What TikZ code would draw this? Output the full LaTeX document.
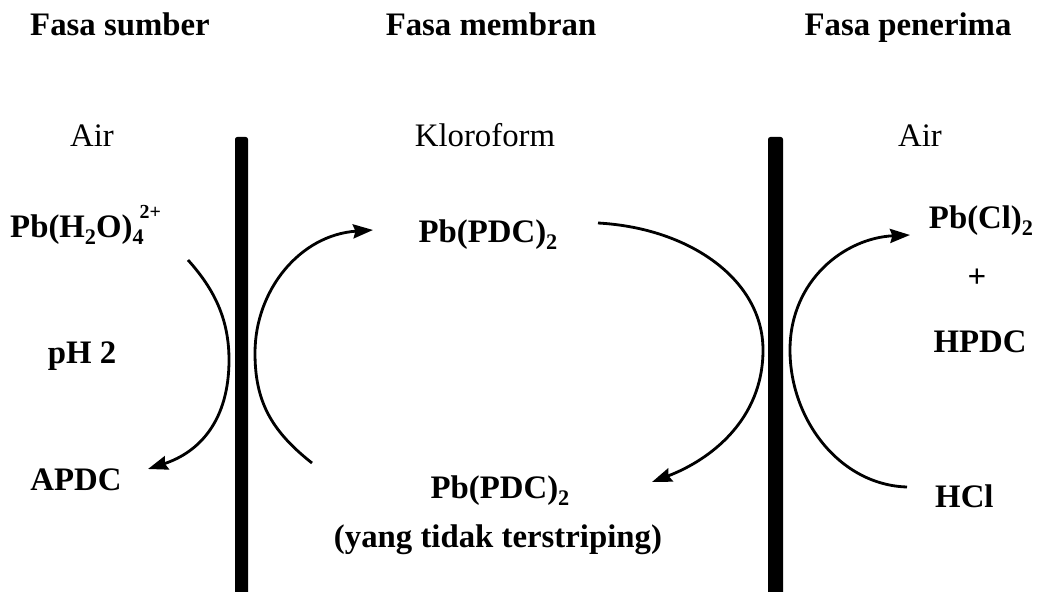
\documentclass[tikz,border=0pt]{standalone}
\usepackage{fontspec}
\setmainfont{Liberation Serif}
\usetikzlibrary{arrows.meta}
% chemical sub- and superscripts at a fixed smaller size
\newcommand\chsub[1]{\raisebox{-0.22em}{\fontsize{19}{19}\selectfont #1}}
\newcommand\chsup[1]{\raisebox{0.55em}{\fontsize{17}{17}\selectfont #1}}

\begin{document}
\begin{tikzpicture}[x=0.03cm,y=-0.03cm,
  txt/.style={inner sep=0pt, anchor=base, font=\fontsize{28}{32}\selectfont},
  btxt/.style={inner sep=0pt, anchor=base, font=\fontsize{28}{32}\selectfont\bfseries},
  flow/.style={line width=2.4pt, -{Stealth[length=17pt,width=12pt,inset=2pt]}},
  ]
\useasboundingbox (0,0) rectangle (1043,592);

% membrane walls
\fill[black, rounded corners=2pt] (235,137) rectangle (248,600);
\fill[black, rounded corners=2pt] (768,137) rectangle (783,600);

% phase headings
\node[btxt] (src) at (120,36) {Fasa sumber};
\node[btxt] (mem) at (491,36) {Fasa membran};
\node[btxt] (rcv) at (908,36) {Fasa penerima};

% solvents
\node[txt] (airL) at (92,146) {Air};
\node[txt] (klo) at (485,146) {Kloroform};
\node[txt] (airR) at (920,146) {Air};

% source phase
\node[btxt, anchor=base west] (pbaq) at (10,237) {Pb(H\chsub{2}O)\chsub{4}\kern-0.12em\chsup{2+}};
\node[btxt] (ph) at (82,363) {pH 2};
\node[btxt] (apdc) at (76,490) {APDC};

% membrane phase
\node[btxt] (pbm) at (488,242) {Pb(PDC)\chsub{2}};
\node[btxt] (pbu) at (500,498) {Pb(PDC)\chsub{2}};
\node[btxt] (unstr) at (498,547) {(yang tidak terstriping)};

% receiving phase
\node[btxt] (pbcl) at (981,228) {Pb(Cl)\chsub{2}};
\node[btxt] (plus) at (977,287) {+};
\node[btxt] (hpdc) at (980,352) {HPDC};
\node[btxt, anchor=base west] (hcl) at (935,507) {HCl};

% ends of the flow arcs
\coordinate (s1) at (188,260);
\coordinate (e1) at (148,469);
\coordinate (s2) at (312,463);
\coordinate (e2) at (373,230);
\coordinate (s3) at (598,223);
\coordinate (e3) at (652,482);
\coordinate (s4) at (907,487);
\coordinate (e4) at (910,235);

% complexation at the source side
\draw[flow] (s1) .. controls (215,290) and (229,320) .. (229,360)
                 .. controls (229,420) and (200,452) .. (e1);
% extraction into the membrane
\draw[flow] (s2) .. controls (270,430) and (255,400) .. (255,353)
                 .. controls (255,290) and (300,235) .. (e2);
% complex not stripped
\draw[flow] (s3) .. controls (690,228) and (763,280) .. (763,350)
                 .. controls (763,420) and (710,460) .. (e3);
% stripping by HCl
\draw[flow] (s4) .. controls (840,485) and (790,420) .. (790,350)
                 .. controls (790,280) and (845,238) .. (e4);
\end{tikzpicture}
\end{document}
